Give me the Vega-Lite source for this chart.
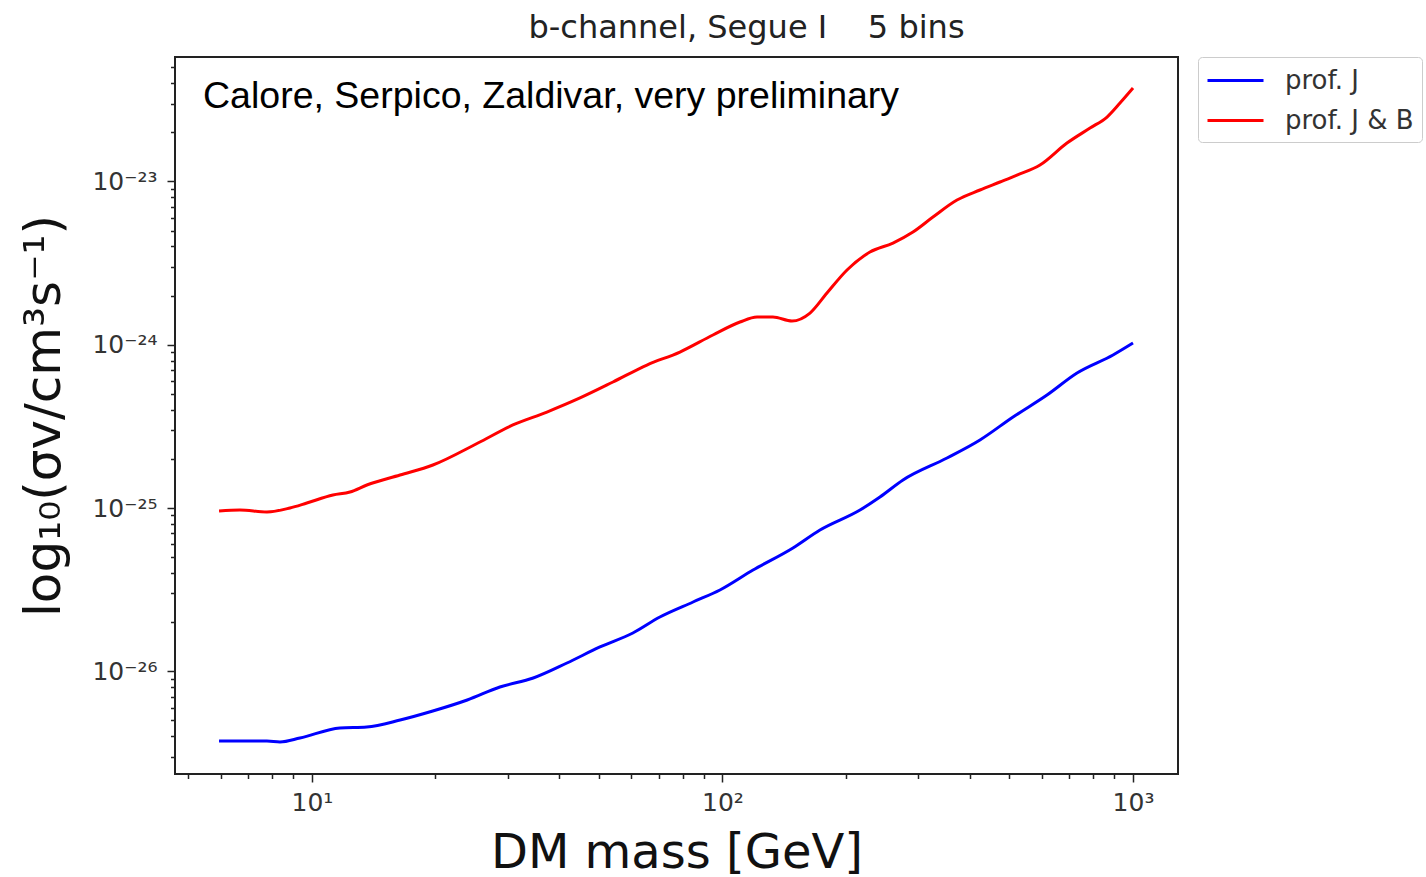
{
  "$schema": "https://vega.github.io/schema/vega-lite/v6.json",
  "autosize": {"type": "none"},
  "padding": {"left": 175, "top": 57, "right": 248, "bottom": 103},
  "width": 1003,
  "height": 717,
  "background": "white",
  "config": {
    "view": {"stroke": "#222", "strokeWidth": 2},
    "axis": {"grid": false, "domain": false, "tickColor": "#222", "tickWidth": 1.5, "labelColor": "#333", "titleColor": "#111", "labelFont": "DejaVu Sans", "titleFont": "DejaVu Sans", "titleFontWeight": "normal", "labelOverlap": false, "labelFlush": false}
  },
  "title": {"text": "b-channel, Segue I\u00a0\u00a0\u00a0\u00a05 bins", "font": "DejaVu Sans", "fontSize": 32, "fontWeight": "normal", "color": "#222", "anchor": "middle", "frame": "group", "dx": 70, "offset": 10},
  "layer": [
    {
      "data": {"values": [
        {"series": "prof. J", "mass": 5.94, "sv": 3.74e-27},
        {"series": "prof. J", "mass": 7.77, "sv": 3.74e-27},
        {"series": "prof. J", "mass": 8.36, "sv": 3.69e-27},
        {"series": "prof. J", "mass": 9.35, "sv": 3.90e-27},
        {"series": "prof. J", "mass": 11.7, "sv": 4.50e-27},
        {"series": "prof. J", "mass": 13.6, "sv": 4.56e-27},
        {"series": "prof. J", "mass": 16.4, "sv": 5.03e-27},
        {"series": "prof. J", "mass": 19.7, "sv": 5.71e-27},
        {"series": "prof. J", "mass": 23.9, "sv": 6.67e-27},
        {"series": "prof. J", "mass": 28.7, "sv": 8.01e-27},
        {"series": "prof. J", "mass": 34.6, "sv": 9.10e-27},
        {"series": "prof. J", "mass": 41.8, "sv": 1.124e-26},
        {"series": "prof. J", "mass": 50.3, "sv": 1.409e-26},
        {"series": "prof. J", "mass": 60.5, "sv": 1.716e-26},
        {"series": "prof. J", "mass": 70.4, "sv": 2.15e-26},
        {"series": "prof. J", "mass": 84.8, "sv": 2.657e-26},
        {"series": "prof. J", "mass": 98.6, "sv": 3.147e-26},
        {"series": "prof. J", "mass": 118.7, "sv": 4.17e-26},
        {"series": "prof. J", "mass": 148.5, "sv": 5.69e-26},
        {"series": "prof. J", "mass": 172.8, "sv": 7.33e-26},
        {"series": "prof. J", "mass": 216.3, "sv": 9.72e-26},
        {"series": "prof. J", "mass": 241.9, "sv": 1.168e-25},
        {"series": "prof. J", "mass": 275.3, "sv": 1.484e-25},
        {"series": "prof. J", "mass": 352.3, "sv": 2.024e-25},
        {"series": "prof. J", "mass": 423.9, "sv": 2.61e-25},
        {"series": "prof. J", "mass": 510.3, "sv": 3.61e-25},
        {"series": "prof. J", "mass": 617.3, "sv": 4.92e-25},
        {"series": "prof. J", "mass": 730.5, "sv": 6.71e-25},
        {"series": "prof. J", "mass": 894, "sv": 8.65e-25},
        {"series": "prof. J", "mass": 1000, "sv": 1.024e-24},
        {"series": "prof. J & B", "mass": 5.94, "sv": 9.58e-26},
        {"series": "prof. J & B", "mass": 6.68, "sv": 9.72e-26},
        {"series": "prof. J & B", "mass": 7.77, "sv": 9.45e-26},
        {"series": "prof. J & B", "mass": 8.84, "sv": 1.0e-25},
        {"series": "prof. J & B", "mass": 9.72, "sv": 1.073e-25},
        {"series": "prof. J & B", "mass": 11.25, "sv": 1.201e-25},
        {"series": "prof. J & B", "mass": 12.38, "sv": 1.253e-25},
        {"series": "prof. J & B", "mass": 13.61, "sv": 1.383e-25},
        {"series": "prof. J & B", "mass": 16.39, "sv": 1.592e-25},
        {"series": "prof. J & B", "mass": 19.71, "sv": 1.834e-25},
        {"series": "prof. J & B", "mass": 25.37, "sv": 2.50e-25},
        {"series": "prof. J & B", "mass": 30.87, "sv": 3.224e-25},
        {"series": "prof. J & B", "mass": 37.36, "sv": 3.87e-25},
        {"series": "prof. J & B", "mass": 44.98, "sv": 4.72e-25},
        {"series": "prof. J & B", "mass": 54.12, "sv": 5.91e-25},
        {"series": "prof. J & B", "mass": 65.47, "sv": 7.51e-25},
        {"series": "prof. J & B", "mass": 78.78, "sv": 9.02e-25},
        {"series": "prof. J & B", "mass": 94.8, "sv": 1.147e-24},
        {"series": "prof. J & B", "mass": 110.3, "sv": 1.377e-24},
        {"series": "prof. J & B", "mass": 121.4, "sv": 1.478e-24},
        {"series": "prof. J & B", "mass": 132.7, "sv": 1.478e-24},
        {"series": "prof. J & B", "mass": 147.7, "sv": 1.397e-24},
        {"series": "prof. J & B", "mass": 163.4, "sv": 1.563e-24},
        {"series": "prof. J & B", "mass": 179.7, "sv": 2.073e-24},
        {"series": "prof. J & B", "mass": 201.1, "sv": 2.867e-24},
        {"series": "prof. J & B", "mass": 228.7, "sv": 3.696e-24},
        {"series": "prof. J & B", "mass": 260.2, "sv": 4.195e-24},
        {"series": "prof. J & B", "mass": 291.1, "sv": 4.90e-24},
        {"series": "prof. J & B", "mass": 325.6, "sv": 6.05e-24},
        {"series": "prof. J & B", "mass": 372.6, "sv": 7.69e-24},
        {"series": "prof. J & B", "mass": 423.9, "sv": 8.86e-24},
        {"series": "prof. J & B", "mass": 474.2, "sv": 9.92e-24},
        {"series": "prof. J & B", "mass": 521.8, "sv": 1.094e-23},
        {"series": "prof. J & B", "mass": 593.5, "sv": 1.26e-23},
        {"series": "prof. J & B", "mass": 690.5, "sv": 1.718e-23},
        {"series": "prof. J & B", "mass": 785.9, "sv": 2.123e-23},
        {"series": "prof. J & B", "mass": 864.4, "sv": 2.48e-23},
        {"series": "prof. J & B", "mass": 929.6, "sv": 3.02e-23},
        {"series": "prof. J & B", "mass": 1000, "sv": 3.73e-23}
      ]},
      "mark": {"type": "line", "strokeWidth": 3, "interpolate": "monotone"},
      "encoding": {
        "x": {
          "field": "mass", "type": "quantitative",
          "scale": {"type": "log", "domain": [4.64, 1287], "nice": false},
          "axis": {
            "title": "DM mass [GeV]",
            "values": [5, 6, 7, 8, 9, 10, 20, 30, 40, 50, 60, 70, 80, 90, 100, 200, 300, 400, 500, 600, 700, 800, 900, 1000],
            "labelExpr": "abs(log(datum.value)/LN10 - round(log(datum.value)/LN10)) < 0.001 ? '10' + substring('⁰¹²³', round(log(datum.value)/LN10), round(log(datum.value)/LN10) + 1) : ''",
            "tickSize": {"condition": {"test": "abs(log(datum.value)/LN10 - round(log(datum.value)/LN10)) < 0.001", "value": 8}, "value": 4.5},
            "labelFontSize": 25,
            "labelPadding": 8,
            "titleFontSize": 48,
            "titlePadding": 14
          }
        },
        "y": {
          "field": "sv", "type": "quantitative",
          "scale": {"type": "log", "domain": [2.35e-27, 5.78e-23], "nice": false},
          "axis": {
            "title": "log₁₀(σv/cm³s⁻¹)",
            "values": [3e-27, 4e-27, 5e-27, 6e-27, 7e-27, 8e-27, 9e-27, 1e-26, 2e-26, 3e-26, 4e-26, 5e-26, 6e-26, 7e-26, 8e-26, 9e-26, 1e-25, 2e-25, 3e-25, 4e-25, 5e-25, 6e-25, 7e-25, 8e-25, 9e-25, 1e-24, 2e-24, 3e-24, 4e-24, 5e-24, 6e-24, 7e-24, 8e-24, 9e-24, 1e-23, 2e-23, 3e-23, 4e-23, 5e-23],
            "labelExpr": "abs(log(datum.value)/LN10 - round(log(datum.value)/LN10)) < 0.001 ? '10⁻²' + substring('⁰¹²³⁴⁵⁶⁷⁸⁹', -round(log(datum.value)/LN10) - 20, -round(log(datum.value)/LN10) - 19) : ''",
            "tickSize": {"condition": {"test": "abs(log(datum.value)/LN10 - round(log(datum.value)/LN10)) < 0.001", "value": 8}, "value": 4.5},
            "labelFontSize": 25,
            "labelPadding": 10,
            "titleFontSize": 50,
            "titlePadding": 22
          }
        },
        "color": {
          "field": "series", "type": "nominal",
          "scale": {"domain": ["prof. J", "prof. J & B"], "range": ["#0000ff", "#ff0000"]},
          "legend": {
            "title": null, "orient": "right", "offset": 20,
            "symbolType": "M-1,0H3", "symbolSize": 784, "symbolStrokeWidth": 3,
            "labelFont": "DejaVu Sans", "labelFontSize": 26, "labelColor": "#333", "labelOffset": 48,
            "strokeColor": "#cccccc", "fillColor": "white", "padding": 8, "cornerRadius": 4, "rowPadding": 11
          }
        }
      }
    },
    {
      "data": {"values": [{"note": "Calore, Serpico, Zaldivar, very preliminary"}]},
      "mark": {"type": "text", "align": "left", "baseline": "alphabetic", "font": "Liberation Sans", "fontSize": 37.5, "color": "#000"},
      "encoding": {
        "x": {"datum": 5.43},
        "y": {"datum": 2.815e-23},
        "text": {"field": "note"}
      }
    }
  ]
}
